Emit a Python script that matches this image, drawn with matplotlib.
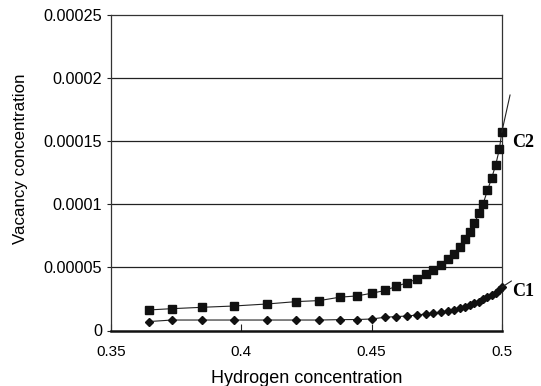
import matplotlib
matplotlib.use("Agg")
import matplotlib.pyplot as plt

# Data
hydrogen = [0.3646, 0.3734, 0.3851, 0.3970, 0.4098, 0.4211, 0.4299, 0.4378, 0.4443, 0.4500,
            0.4551, 0.4593, 0.4637, 0.4675, 0.4708, 0.4736, 0.4766, 0.4793, 0.4815, 0.4838,
            0.4857, 0.4878, 0.4894, 0.4912, 0.4928, 0.4944, 0.4960, 0.4976, 0.4990, 0.4999]
c2 = [1.63e-5, 1.73e-5, 1.84e-5, 1.94e-5, 2.10e-5, 2.29e-5, 2.37e-5, 2.64e-5, 2.74e-5, 2.95e-5,
      3.17e-5, 3.49e-5, 3.79e-5, 4.09e-5, 4.46e-5, 4.80e-5, 5.20e-5, 5.64e-5, 6.07e-5, 6.60e-5,
      7.22e-5, 7.84e-5, 8.51e-5, 9.30e-5, 1.006e-4, 1.110e-4, 1.205e-4, 1.314e-4, 1.438e-4, 1.570e-4]
c1 = [7.1e-6, 8.3e-6, 8.3e-6, 8.3e-6, 8.3e-6, 8.3e-6, 8.3e-6, 8.6e-6, 8.7e-6, 9.1e-6,
      1.05e-5, 1.10e-5, 1.15e-5, 1.23e-5, 1.31e-5, 1.37e-5, 1.47e-5, 1.55e-5, 1.63e-5, 1.76e-5,
      1.89e-5, 2.02e-5, 2.16e-5, 2.29e-5, 2.48e-5, 2.63e-5, 2.82e-5, 3.00e-5, 3.21e-5, 3.43e-5]

xticks = [0.35, 0.4, 0.45, 0.5]
xtick_labels = ["0.35", "0.4", "0.45", "0.5"]
yticks = [0, 0.00005, 0.0001, 0.00015, 0.0002, 0.00025]
ytick_labels = ["0", "0.00005", "0.0001", "0.00015", "0.0002", "0.00025"]

plt.rcParams['font.family'] = ['Liberation Sans', 'DejaVu Sans']

fig = plt.figure(figsize=(5.41, 3.86), dpi=100)
ax = fig.add_axes([111/541, 1 - 330.5/386, (502 - 111)/541, (330.5 - 15)/386])

ax.set_xlim(0.35, 0.5)
ax.set_ylim(0, 0.00025)

for v in yticks[1:-1]:
    ax.axhline(v, color='#222222', lw=0.9, zorder=1)

ax.plot(hydrogen, c2, color='#222222', lw=0.8, marker='s', ms=6.3,
        mfc='#111111', mec='#111111', clip_on=False, zorder=3)
ax.plot(hydrogen, c1, color='#222222', lw=0.8, marker='D', ms=4.0,
        mfc='#111111', mec='#111111', clip_on=False, zorder=3)

# leader lines and labels
ax.annotate('', xy=(hydrogen[-1], c2[-1]), xytext=(6, 27), textcoords='offset points',
            arrowprops=dict(arrowstyle='-', color='#222222', lw=0.8, shrinkA=0, shrinkB=0),
            annotation_clip=False)
ax.annotate('', xy=(hydrogen[-1], c1[-1]), xytext=(7, 4.5), textcoords='offset points',
            arrowprops=dict(arrowstyle='-', color='#222222', lw=0.8, shrinkA=0, shrinkB=0),
            annotation_clip=False)
ax.annotate('C2', xy=(hydrogen[-1], c2[-1]), xytext=(7.5, -7.3), textcoords='offset points',
            ha='left', va='center', fontsize=13, fontweight='bold',
            family=['Liberation Serif', 'DejaVu Serif'], annotation_clip=False)
ax.annotate('C1', xy=(hydrogen[-1], c1[-1]), xytext=(7.5, -3), textcoords='offset points',
            ha='left', va='center', fontsize=13, fontweight='bold',
            family=['Liberation Serif', 'DejaVu Serif'], annotation_clip=False)

ax.set_xticks(xticks)
ax.set_xticklabels(xtick_labels, fontsize=11)
ax.set_yticks(yticks)
ax.set_yticklabels(ytick_labels, fontsize=11.7)
ax.tick_params(axis='x', direction='in', length=5, width=0.8, pad=10.5, colors='#222222',
               labelcolor='black')
ax.tick_params(axis='y', direction='out', length=3, width=0.8, pad=3.5, colors='#222222',
               labelcolor='black')

for s in ['top', 'right', 'left']:
    ax.spines[s].set_linewidth(0.9)
    ax.spines[s].set_color('#333333')
ax.spines['bottom'].set_linewidth(1.8)
ax.spines['bottom'].set_color('#111111')

ax.set_xlabel('Hydrogen concentration', fontsize=13)
ax.set_ylabel('Vacancy concentration', fontsize=12.2)
ax.xaxis.set_label_coords(0.5, -0.124)
ax.yaxis.set_label_coords(-0.212, 0.544)

fig.savefig('out.png', dpi=100)
